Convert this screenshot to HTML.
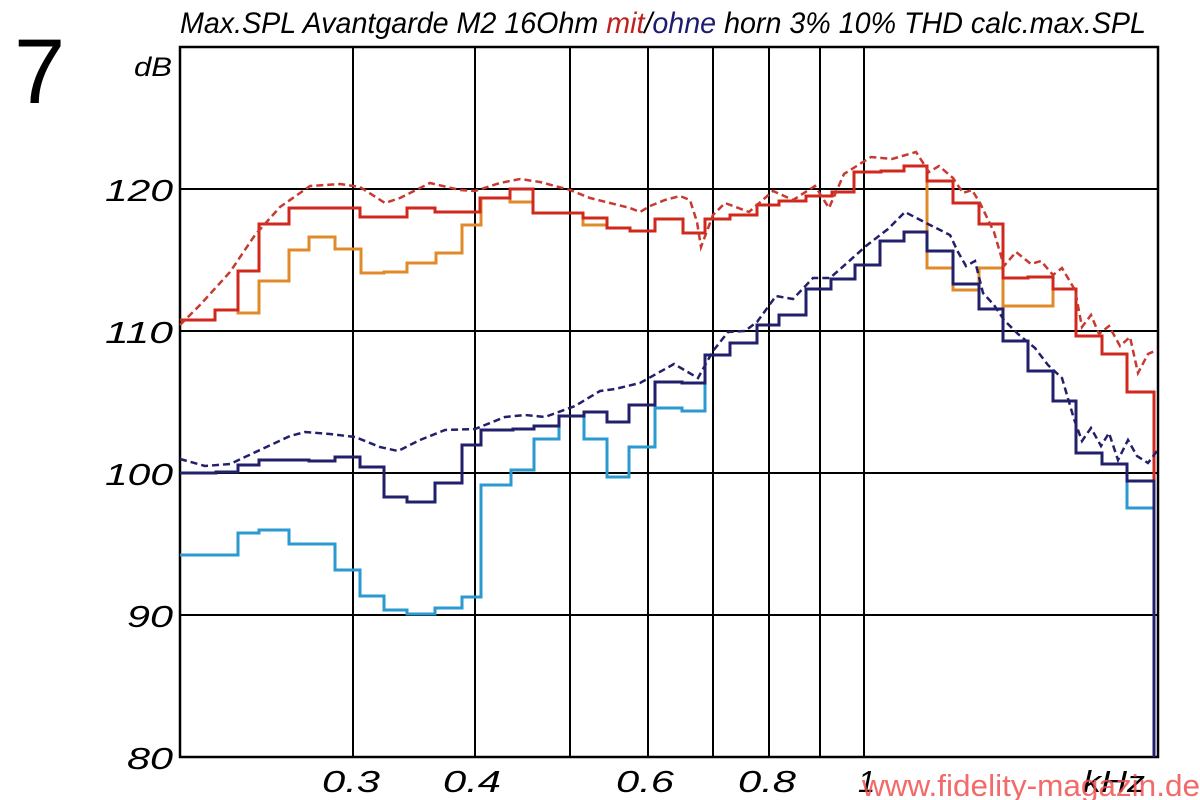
<!DOCTYPE html>
<html><head><meta charset="utf-8"><style>
html,body{margin:0;padding:0;background:#fff;width:1200px;height:800px;overflow:hidden}
svg{display:block}
</style></head><body>
<svg width="1200" height="800" viewBox="0 0 1200 800" xmlns="http://www.w3.org/2000/svg" font-family="Liberation Sans, sans-serif">
<rect width="1200" height="800" fill="#fff"/>
<text x="14" y="103" font-size="92" fill="#000">7</text>
<text x="180" y="33" font-size="30" font-style="italic" textLength="966" lengthAdjust="spacingAndGlyphs" fill="#000">Max.SPL Avantgarde M2 16Ohm <tspan fill="#c0201c">mit</tspan>/<tspan fill="#1c1c70">ohne</tspan> horn 3% 10% THD calc.max.SPL</text>
<text x="134" y="76" font-size="27" font-style="italic" fill="#000" textLength="38" lengthAdjust="spacingAndGlyphs">dB</text>
<g font-size="31" font-style="italic" fill="#000">
<text x="105" y="201" textLength="68" lengthAdjust="spacingAndGlyphs">120</text><text x="105" y="343" textLength="68" lengthAdjust="spacingAndGlyphs">110</text><text x="105" y="485" textLength="68" lengthAdjust="spacingAndGlyphs">100</text><text x="127" y="627" textLength="46" lengthAdjust="spacingAndGlyphs">90</text><text x="127" y="769" textLength="46" lengthAdjust="spacingAndGlyphs">80</text>
</g>
<g font-size="31" font-style="italic" fill="#000">
<text x="322" y="792" textLength="58" lengthAdjust="spacingAndGlyphs">0.3</text><text x="443" y="792" textLength="58" lengthAdjust="spacingAndGlyphs">0.4</text><text x="616" y="792" textLength="58" lengthAdjust="spacingAndGlyphs">0.6</text><text x="738" y="792" textLength="58" lengthAdjust="spacingAndGlyphs">0.8</text><text x="858" y="792">1</text><text x="1083" y="792" textLength="62" lengthAdjust="spacingAndGlyphs">kHz</text>
</g>
<g stroke="#000" stroke-width="2" fill="none">
<path d="M180 189H1158M180 331H1158M180 473H1158M180 615H1158"/>
<path d="M353 47V757M475 47V757M570 47V757M648 47V757M713 47V757M769 47V757M820 47V757M864 47V757"/>
<rect x="180" y="47" width="978" height="710" stroke-width="2.5"/>
</g>
<g fill="none" stroke-width="3">
<polyline stroke="#e08a2a" points="180,320 215,320 215,310 238,310 238,313 259,313 259,281 289,281 289,250 309,250 309,237 335,237 335,249 361,249 361,273 384,273 384,272 407,272 407,263 436,263 436,253 462,253 462,225 481,225 481,198 510,198 510,202 533,202 533,213 583,213 583,225 607,225 607,228 630,228 630,231 655,231 655,219 683,219 683,233 705,233 705,219 730,219 730,215 757,215 757,205 779,205 779,201 806,201 806,196 832,196 832,192 854,192 854,172 881,172 881,171 904,171 904,166 927,166 927,268 953,268 953,290 979,290 979,268 1003,268 1003,306 1053,306 1053,289"/>
<polyline stroke="#d0281c" points="180,320 215,320 215,310 238,310 238,271 259,271 259,224 289,224 289,208 360,208 360,217 407,217 407,208 435,208 435,212 480,212 480,198 510,198 510,189 533,189 533,213 583,213 583,218 607,218 607,228 630,228 630,231 655,231 655,219 683,219 683,233 705,233 705,219 730,219 730,215 757,215 757,205 779,205 779,201 806,201 806,196 832,196 832,192 854,192 854,172 881,172 881,171 904,171 904,166 927,166 927,181 953,181 953,203 979,203 979,224 1003,224 1003,278 1028,278 1028,277 1053,277 1053,289 1076,289 1076,336 1102,336 1102,354 1127,354 1127,392 1154,392 1154,485"/>
<polyline stroke="#2a9ad0" points="180,555 238,555 238,533 259,533 259,530 289,530 289,544 335,544 335,570 360,570 360,596 384,596 384,610 407,610 407,614 435,614 435,608 462,608 462,597 481,597 481,485 511,485 511,470 534,470 534,439 559,439 559,416 584,416 584,439 607,439 607,477 629,477 629,447 655,447 655,408 682,408 682,411 705,411 705,355 730,355 730,343 757,343 757,325 779,325 779,315 806,315 806,289 831,289 831,279 855,279 855,265 880,265 880,241 904,241 904,232 927,232 927,251 953,251 953,284 979,284 979,309 1003,309 1003,341 1028,341 1028,371 1053,371 1053,401 1076,401 1076,453 1102,453 1102,464 1127,464 1127,508 1154,508"/>
<polyline stroke="#22206a" points="180,473 216,473 216,472 238,472 238,465 259,465 259,460 309,460 309,461 335,461 335,457 360,457 360,467 384,467 384,497 407,497 407,502 435,502 435,483 462,483 462,445 481,445 481,430 513,430 513,429 534,429 534,426 559,426 559,416 584,416 584,412 607,412 607,422 629,422 629,405 655,405 655,382 682,382 682,383 705,383 705,355 730,355 730,343 757,343 757,325 779,325 779,315 806,315 806,289 831,289 831,279 855,279 855,265 880,265 880,241 904,241 904,232 927,232 927,251 953,251 953,284 979,284 979,309 1003,309 1003,341 1028,341 1028,371 1053,371 1053,401 1076,401 1076,453 1102,453 1102,464 1127,464 1127,481 1154,481 1154,757"/>
</g>
<g fill="none" stroke-width="2.5" stroke-dasharray="7,4">
<polyline stroke="#c83a30" points="180,325 200,305 230,272 255,235 280,207 310,186 340,184 360,187 385,203 400,198 430,183 460,190 475,191 500,183 520,179 540,182 570,190 590,198 610,203 630,208 640,212 650,206 665,200 680,196 690,200 697,222 701,247 713,215 725,203 749,212 773,191 793,200 815,186 829,208 844,174 871,157 892,159 916,152 929,172 939,166 953,178 963,193 972,190 980,203 994,232 1004,266 1016,252 1031,264 1041,261 1053,275 1062,268 1075,290 1082,327 1091,315 1099,334 1109,326 1120,346 1130,337 1138,373 1148,354 1157,350"/>
<polyline stroke="#22206a" points="180,459 205,466 230,464 260,450 290,436 305,432 330,434 355,437 380,447 398,451 420,440 445,430 475,429 505,417 525,415 545,417 575,406 600,391 615,389 640,383 674,364 698,378 713,351 728,332 745,331 757,322 776,296 793,299 813,278 830,278 847,263 866,246 888,229 905,212 926,223 950,235 958,252 966,266 975,261 983,293 994,305 1004,320 1018,334 1035,348 1048,365 1062,378 1074,419 1082,441 1091,428 1101,446 1109,433 1118,460 1128,440 1137,456 1148,463 1157,451"/>
</g>
<text x="862" y="796" font-size="31" fill="#f05050" fill-opacity="0.85" textLength="338" lengthAdjust="spacingAndGlyphs">www.fidelity-magazin.de</text>
</svg>
</body></html>
